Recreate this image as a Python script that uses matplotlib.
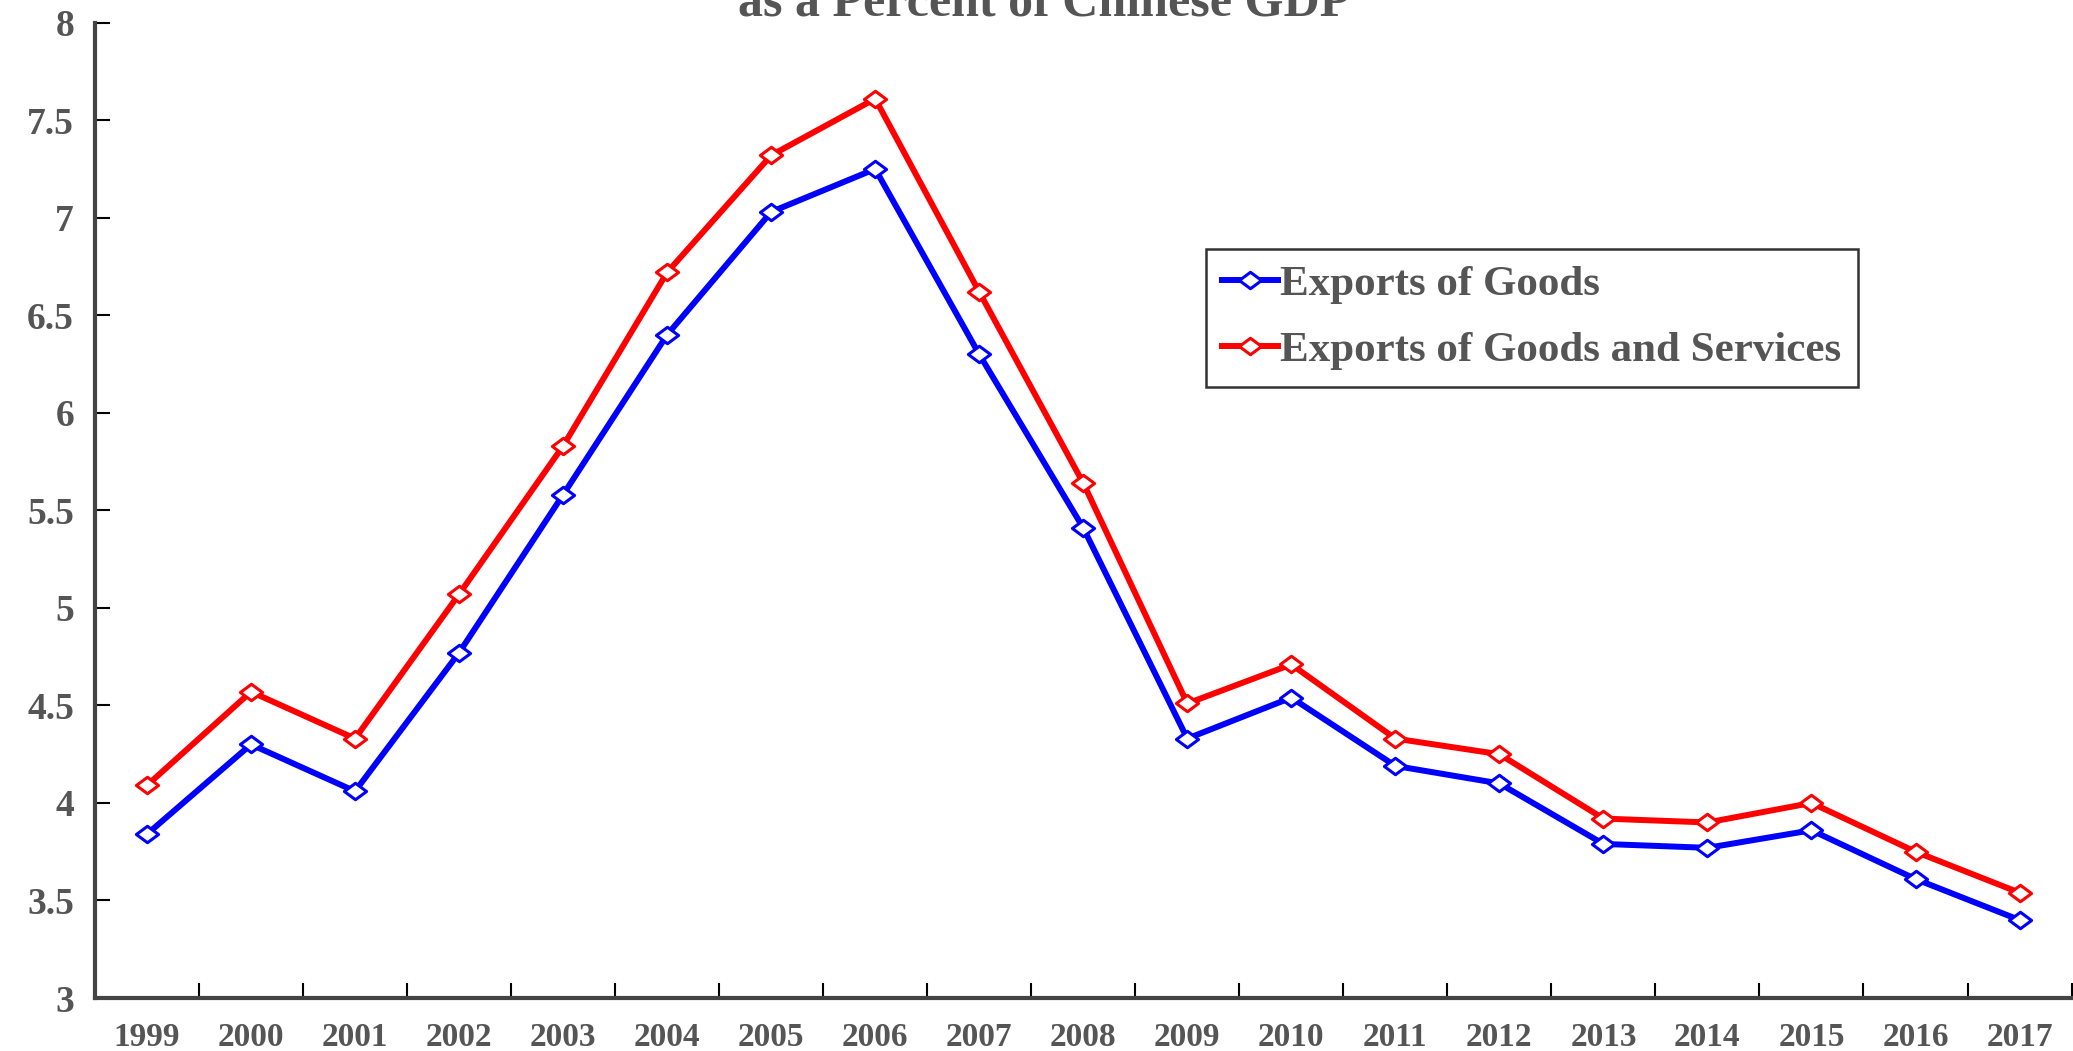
import matplotlib

matplotlib.use('AGG')

import matplotlib.pyplot as plt
from matplotlib.path import Path

years = [str(y) for y in range(1999, 2018)]
goods = [3.84, 4.30, 4.06, 4.77, 5.58, 6.40, 7.03, 7.25, 6.30, 5.41,
         4.33, 4.54, 4.19, 4.10, 3.79, 3.77, 3.86, 3.61, 3.40]
goods_services = [4.09, 4.57, 4.33, 5.07, 5.83, 6.72, 7.32, 7.61, 6.62, 5.64,
                  4.51, 4.71, 4.33, 4.25, 3.92, 3.90, 4.00, 3.75, 3.54]
yticks = [3, 3.5, 4, 4.5, 5, 5.5, 6, 6.5, 7, 7.5, 8]
ytick_labels = ['3', '3.5', '4', '4.5', '5', '5.5', '6', '6.5', '7', '7.5', '8']

plt.rcParams['font.family'] = ['Liberation Serif', 'DejaVu Serif']
grey = '#555555'

# wide diamond, like the squashed excel marker
diamond = Path([(-1.35, 0), (0, 1), (1.35, 0), (0, -1), (-1.35, 0)],
               [Path.MOVETO, Path.LINETO, Path.LINETO, Path.LINETO, Path.CLOSEPOLY])

fig = plt.figure(figsize=(20.73, 10.51), dpi=100)
ax = fig.add_axes([0.0458, 0.0504, 0.9535, 0.928])

x = list(range(len(years)))
ax.plot(x, goods, '-', color='#0000ff', lw=4.3, marker=diamond, ms=16,
        mfc='white', mec='#0000ff', mew=2.2, label='Exports of Goods')
ax.plot(x, goods_services, '-', color='#ff0000', lw=4.3, marker=diamond, ms=16,
        mfc='white', mec='#ff0000', mew=2.2, label='Exports of Goods and Services')

ax.set_xlim(-0.5, len(years) - 0.5)
ax.set_ylim(3, 8)

ax.set_xticks([i + 0.5 for i in range(-1, len(years))])
ax.set_xticklabels([])
ax.set_xticks(x, minor=True)
ax.set_xticklabels(years, minor=True, fontsize=24, fontweight='bold', color=grey)
ax.tick_params(axis='x', which='major', direction='in', length=11, width=1.5, color='black')
ax.tick_params(axis='x', which='minor', length=0, pad=17)

ax.set_yticks(yticks)
ax.set_yticklabels(ytick_labels, fontsize=27, fontweight='bold', color=grey)
ax.tick_params(axis='y', direction='in', length=11, width=1.5, color='black', pad=15)

for s in ('top', 'right'):
    ax.spines[s].set_visible(False)
for s in ('left', 'bottom'):
    ax.spines[s].set_linewidth(3)
    ax.spines[s].set_color('#444444')

leg = ax.legend(loc='upper left', bbox_to_anchor=(0.562, 0.768),
                prop={'weight': 'bold', 'size': 31}, frameon=True, fancybox=False,
                shadow=False, handlelength=1.3, handletextpad=0.05, labelspacing=0.62,
                borderpad=0.38, borderaxespad=0, labelcolor=grey)
leg.get_frame().set_edgecolor('black')
leg.get_frame().set_linewidth(1.8)

# title is cut off at the top of the image, only the second line shows
fig.text(0.5035, 1 - 15 / 1051, 'as a Percent of Chinese GDP', ha='center',
         va='baseline', fontsize=36, fontweight='bold', color=grey)

plt.savefig('out.png', dpi=100)
